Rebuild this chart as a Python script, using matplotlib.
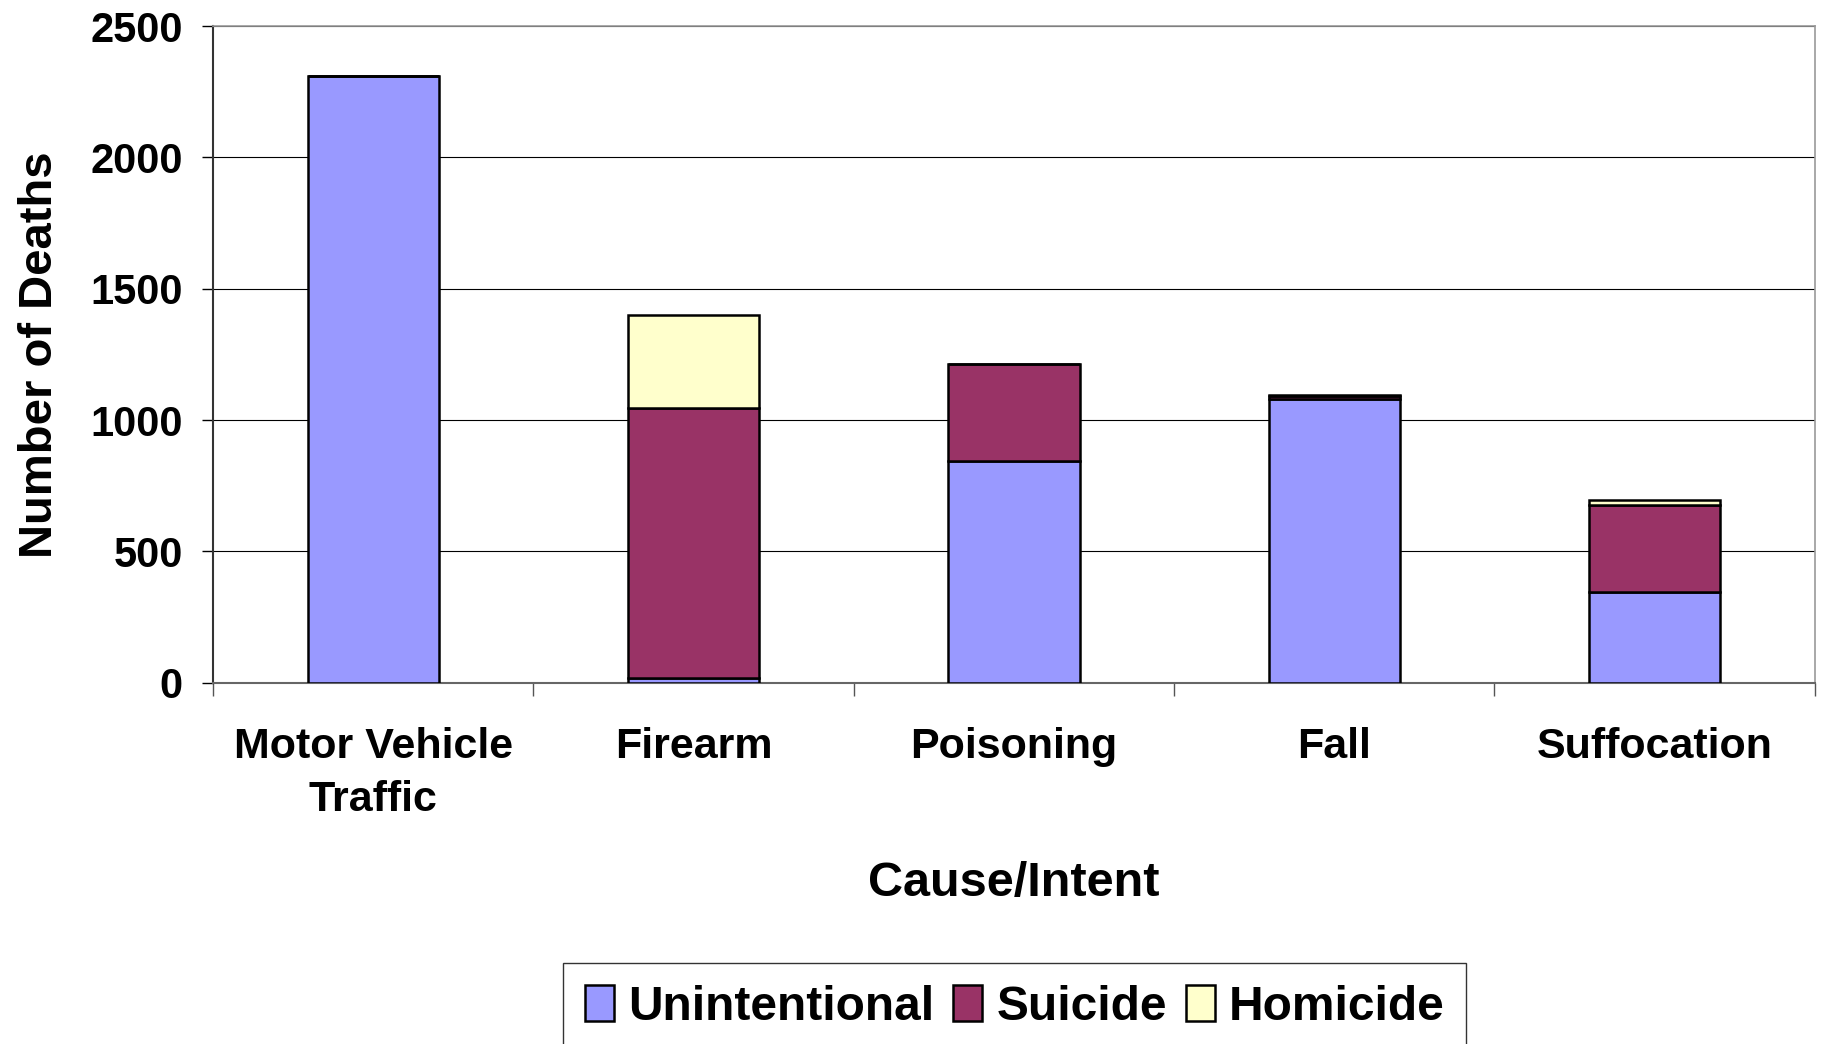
import numpy as np
import matplotlib
matplotlib.use("Agg")
import matplotlib.pyplot as plt
import matplotlib.patches as mpatches

plt.rcParams["font.family"] = ["Liberation Sans", "DejaVu Sans"]
plt.rcParams["font.weight"] = "bold"

categories = ["Motor Vehicle\nTraffic", "Firearm", "Poisoning", "Fall", "Suffocation"]
unintentional = [2310, 20, 845, 1080, 345]
suicide = [0, 1025, 370, 12, 330]
homicide = [0, 355, 0, 3, 22]

series = [
    ("Unintentional", unintentional, "#9999FF"),
    ("Suicide", suicide, "#993366"),
    ("Homicide", homicide, "#FFFFCC"),
]

fig = plt.figure(figsize=(18.22, 10.44), dpi=100)
fig.patch.set_facecolor("white")
ax = fig.add_axes([0.117, 0.346, 0.879, 0.629])

x = np.arange(len(categories))
bottom = np.zeros(len(categories))
handles = []
for name, vals, color in series:
    vals = np.array(vals, dtype=float)
    ax.bar(x, vals, width=0.41, bottom=bottom, color=color,
           edgecolor="black", linewidth=1.8, zorder=3, label=name)
    bottom += vals
    handles.append(mpatches.Patch(facecolor=color, edgecolor="black", linewidth=1.8, label=name))

ax.set_xlim(-0.5, len(categories) - 0.5)
ax.set_ylim(0, 2500)
ax.set_yticks(np.arange(0, 2501, 500))
ax.yaxis.grid(True, color="black", linewidth=0.8, zorder=0)
ax.set_axisbelow(True)

# category labels centred, tick marks at category boundaries
ax.set_xticks(x)
ax.set_xticklabels(categories, fontsize=31, fontweight="bold", linespacing=1.4)
ax.set_xticks(np.arange(-0.5, len(categories)), minor=True)
ax.tick_params(axis="x", which="major", length=0, pad=32)
ax.tick_params(axis="x", which="minor", length=9, width=1, color="#555555", direction="out")
ax.tick_params(axis="y", labelsize=30, length=8, width=1, pad=14, direction="out")
for lbl in ax.get_yticklabels():
    lbl.set_fontweight("bold")

for side in ["top", "right"]:
    ax.spines[side].set_color("#999999")
    ax.spines[side].set_linewidth(1.2)
ax.spines["left"].set_color("#333333")
ax.spines["left"].set_linewidth(1.5)
ax.spines["bottom"].set_color("#666666")
ax.spines["bottom"].set_linewidth(1.5)

ax.set_ylabel("Number of Deaths", fontsize=34, fontweight="bold", labelpad=20)
ax.set_xlabel("Cause/Intent", fontsize=35, fontweight="bold", labelpad=30)

leg = fig.legend(handles=handles, loc="upper center", bbox_to_anchor=(0.557, 0.0776),
                 ncol=3, frameon=True, fancybox=False, edgecolor="black", borderaxespad=0,
                 handlelength=0.6, handleheight=0.8, handletextpad=0.3, columnspacing=0.4,
                 borderpad=0.45, prop={"weight": "bold", "size": 34.5})
leg.get_frame().set_linewidth(1.0)

fig.savefig("out.png", dpi=100, facecolor="white")
plt.close(fig)
